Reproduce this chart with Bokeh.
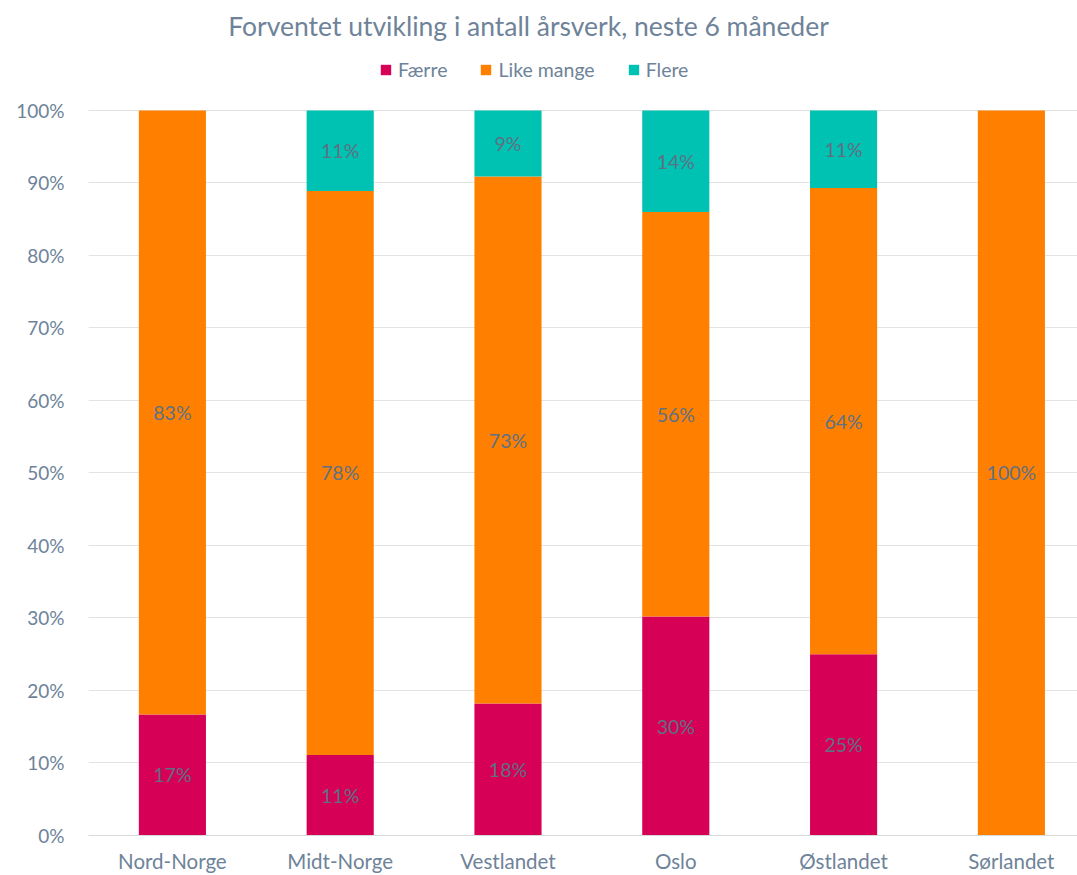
from bokeh.plotting import figure
from bokeh.models import (ColumnDataSource, Range1d, FixedTicker, Legend, LegendItem,
                          NumeralTickFormatter, LabelSet, Label)
from bokeh.core.properties import value
from bokeh.embed import file_html
from bokeh.resources import INLINE

regions = ["Nord-Norge", "Midt-Norge", "Vestlandet", "Oslo", "Østlandet", "Sørlandet"]
faerre = [16.7, 11.1, 18.2, 30.2, 25.0, 0.0]
like_mange = [83.3, 77.8, 72.7, 55.8, 64.3, 100.0]
flere = [0.0, 11.1, 9.1, 14.0, 10.7, 0.0]
series = ["Færre", "Like mange", "Flere"]
colors = ["#D60057", "#FF8000", "#00C2B2"]
title = "Forventet utvikling i antall årsverk, neste 6 måneder"

FONT = "Lato"
TXT = "#6E8399"
LBL = "#5E7184"

xs = [i + 0.5 for i in range(len(regions))]
src = ColumnDataSource(dict(x=xs,
                            faerre=[v / 100 for v in faerre],
                            like=[v / 100 for v in like_mange],
                            flere=[v / 100 for v in flere]))

# frame spans the full height above the x axis; headroom above 100% holds title + legend
p = figure(width=1077, height=875, output_backend="svg", toolbar_location=None,
           x_range=Range1d(0, 5.894), y_range=Range1d(0, 1.1517),
           min_border_left=88, min_border_right=0, min_border_top=0, min_border_bottom=40)

rs = p.vbar_stack(["faerre", "like", "flere"], x="x", width=0.4, source=src,
                  color=colors, line_color=None)

# data labels
lx, ly, lt = [], [], []
for i in range(len(regions)):
    base = 0.0
    for vals in (faerre, like_mange, flere):
        v = vals[i]
        if v > 0:
            lx.append(xs[i])
            ly.append((base + v / 2) / 100)
            lt.append(f"{round(v):.0f}%")
        base += v
lsrc = ColumnDataSource(dict(x=lx, y=ly, t=lt))
p.add_layout(LabelSet(x="x", y="y", text="t", source=lsrc, text_align="center",
                      text_baseline="middle", text_color=LBL, text_font=value(FONT),
                      text_font_size="19.5px"))

# title (screen units relative to the frame)
p.add_layout(Label(x=440, y=810, x_units="screen", y_units="screen", text=title,
                   text_align="center", text_baseline="middle", text_font=FONT,
                   text_font_size="26.5px", text_color=TXT))

legend = Legend(items=[LegendItem(label=s, renderers=[r]) for s, r in zip(series, rs)],
                orientation="horizontal", location=(291, 754),
                label_text_font=FONT, label_text_font_size="19.5px", label_text_color=TXT,
                glyph_width=13, glyph_height=13, spacing=32, label_standoff=6,
                border_line_color=None, background_fill_alpha=0, padding=4, margin=0)
p.add_layout(legend)

# axes
p.yaxis.ticker = FixedTicker(ticks=[i / 10 for i in range(11)])
p.yaxis.formatter = NumeralTickFormatter(format="0%")
p.yaxis.axis_line_color = None
p.yaxis.major_tick_line_color = None
p.yaxis.minor_tick_line_color = None
p.yaxis.major_label_text_font = FONT
p.yaxis.major_label_text_font_size = "19px"
p.yaxis.major_label_text_color = TXT
p.yaxis.major_label_standoff = 18

p.xaxis.ticker = FixedTicker(ticks=xs)
p.xaxis.major_label_overrides = {x: r for x, r in zip(xs, regions)}
p.xaxis.axis_line_color = "#D9D9D9"
p.xaxis.major_tick_line_color = None
p.xaxis.minor_tick_line_color = None
p.xaxis.major_label_text_font = FONT
p.xaxis.major_label_text_font_size = "20.5px"
p.xaxis.major_label_text_color = TXT
p.xaxis.major_label_standoff = 7

p.xgrid.grid_line_color = None
p.ygrid.grid_line_color = "#E3E3E3"
p.outline_line_color = None

open("out.html", "w").write(file_html(p, INLINE))
